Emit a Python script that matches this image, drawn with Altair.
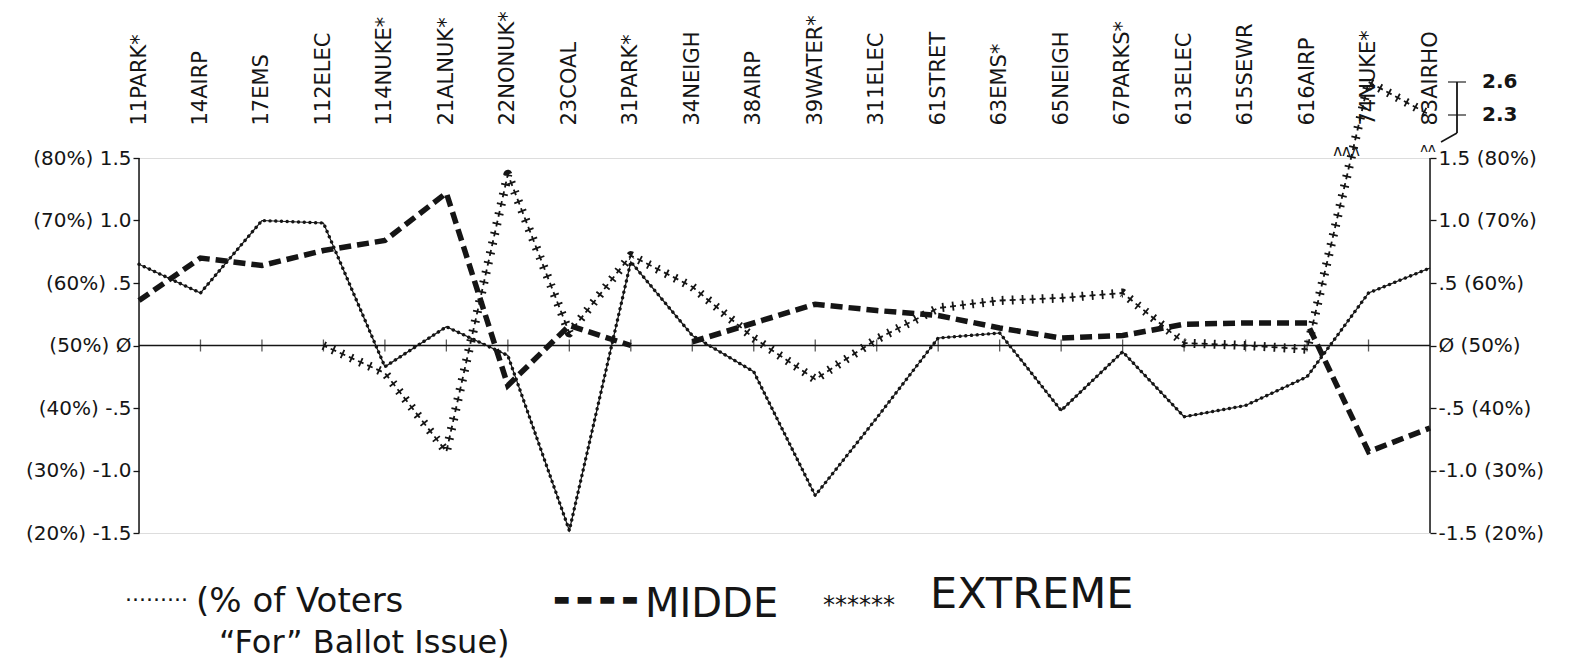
import json
import altair as alt
import pandas as pd

# ---------------- data ----------------
CATEGORIES = ["11PARK*", "14AIRP", "17EMS", "112ELEC", "114NUKE*", "21ALNUK*",
              "22NONUK*", "23COAL", "31PARK*", "34NEIGH", "38AIRP", "39WATER*",
              "311ELEC", "61STRET", "63EMS*", "65NEIGH", "67PARKS*", "613ELEC",
              "615SEWR", "616AIRP", "74NUKE*", "83AIRHO"]

VOTERS = [0.65, 0.42, 1.00, 0.98, -0.17, 0.15, -0.08, -1.48, 0.67, 0.08, -0.21,
          -1.20, -0.58, 0.06, 0.10, -0.52, -0.05, -0.57, -0.48, -0.25, 0.42, 0.62]

MIDDE = [0.36, 0.70, 0.64, 0.76, 0.84, 1.22, -0.32, 0.16, 0.00, 0.03, 0.18,
         0.33, 0.28, 0.24, 0.14, 0.06, 0.08, 0.17, 0.18, 0.18, -0.85, -0.66]
MIDDE_SEGMENT = [1] * 9 + [2] * 13   # the dashed line is interrupted after 31PARK

EXTREME = [None, None, None, 0.00, -0.22, -0.85, 1.37, 0.10, 0.72, 0.47, 0.06,
           -0.27, 0.05, 0.30, 0.36, 0.38, 0.42, 0.02, 0.00, -0.03, 2.60, 2.30]

Y_TICKS = [-1.5, -1.0, -0.5, 0.0, 0.5, 1.0, 1.5]
LEFT_LABELS = ["(20%) -1.5", "(30%) -1.0", "(40%) -.5", "(50%) Ø",
               "(60%) .5", "(70%) 1.0", "(80%) 1.5"]
RIGHT_LABELS = ["-1.5 (20%)", "-1.0 (30%)", "-.5 (40%)", "Ø (50%)",
                ".5 (60%)", "1.0 (70%)", "1.5 (80%)"]
BREAK_VALUES = [2.3, 2.6]
BREAK_MARK_Y = [1.63, 1.69]

# ---------------- styling ----------------
FONT = "DejaVu Sans"
INK = "#151515"
W, H = 1291, 375

y_scale = alt.Scale(domain=[Y_TICKS[0], Y_TICKS[-1], BREAK_VALUES[0], BREAK_VALUES[1]],
                    range=[H, 0, -43, -76], zero=False, nice=False)
x_scale = alt.Scale(type="point", domain=CATEGORIES, padding=0)

x_axis = alt.Axis(orient="top", title=None, labelAngle=-90, labelAlign="left",
                  labelBaseline="middle", labelPadding=33, labelFontSize=21,
                  labelFont=FONT, labelColor=INK, domain=False, ticks=False,
                  labelLimit=400, grid=False)


def xenc(field="cat"):
    return alt.X(f"{field}:N", scale=x_scale, axis=x_axis, sort=CATEGORIES)


def yenc(field="value", axis=None):
    return alt.Y(f"{field}:Q", scale=y_scale, axis=axis)


def label_expr(labels):
    return json.dumps(labels, ensure_ascii=False) + "[round((datum.value + 1.5) * 2)]"


common_axis = dict(title=None, values=Y_TICKS, domain=False, ticks=True, tickSize=6,
                   tickColor=INK, tickWidth=1.3, labelFontSize=20, labelFont=FONT,
                   labelColor=INK, labelPadding=2, grid=False)
left_axis = alt.Axis(orient="left", labelExpr=label_expr(LEFT_LABELS), **common_axis)
right_axis = alt.Axis(orient="right", labelExpr=label_expr(RIGHT_LABELS), **common_axis)

# ---------------- tables ----------------
df_voters = pd.DataFrame({"cat": CATEGORIES, "value": VOTERS})
df_midde = pd.DataFrame({"cat": CATEGORIES, "value": MIDDE, "segment": MIDDE_SEGMENT})
df_extreme = pd.DataFrame({"cat": CATEGORIES, "value": EXTREME}).dropna()
df_zero = pd.DataFrame({"cat": [CATEGORIES[0]], "cat_end": [CATEGORIES[-1]], "value": [0.0]})
df_axes = pd.DataFrame({"cat": [CATEGORIES[0], CATEGORIES[-1]],
                        "lo": [Y_TICKS[0]] * 2, "hi": [Y_TICKS[-1]] * 2})
df_ticks = pd.DataFrame({"cat": CATEGORIES[1:-1], "value": [0.0] * (len(CATEGORIES) - 2)})
df_ann = pd.DataFrame({"cat": [CATEGORIES[-1]] * 2, "value": BREAK_VALUES,
                       "label": [f"{v:.1f}" for v in BREAK_VALUES]})
df_ann_rule = pd.DataFrame({"cat": [CATEGORIES[-1]], "lo": [BREAK_VALUES[0]],
                            "hi": [BREAK_VALUES[1]]})
df_brk1 = pd.DataFrame({"cat": [CATEGORIES[-2]], "value": [BREAK_MARK_Y[0]]})
df_brk2 = pd.DataFrame({"cat": [CATEGORIES[-1]], "value": [BREAK_MARK_Y[1]]})

# ---------------- layers ----------------
axes = alt.Chart(df_axes).mark_rule(color=INK, strokeWidth=1.5).encode(
    x=xenc(), y=yenc("lo"), y2=alt.Y2("hi"))

zero = alt.Chart(df_zero).mark_rule(color=INK, strokeWidth=1.3).encode(
    x=xenc(), x2=alt.X2("cat_end"), y=yenc("value", right_axis))

ticks = alt.Chart(df_ticks).mark_tick(orient="vertical", size=12, thickness=1.3,
                                      color=INK).encode(x=xenc(), y=yenc())

midde = alt.Chart(df_midde).mark_line(color=INK, strokeWidth=5.5,
                                      strokeDash=[12, 6]).encode(
    x=xenc(), y=yenc(), detail="segment:N")

v_line = alt.Chart(df_voters).mark_line(color=INK, strokeWidth=1.2).encode(
    x=xenc(), y=yenc("value", left_axis))
v_dots = alt.Chart(df_voters).mark_line(color=INK, strokeWidth=3.4, strokeDash=[0.1, 5.6],
                                        strokeCap="round").encode(x=xenc(), y=yenc())

# asterisk-like chain: short perpendicular bars crossed by short along-path strokes
e_bars = alt.Chart(df_extreme).mark_line(color=INK, strokeWidth=9, strokeJoin="round",
                                         strokeDash=[1.8, 8.2]).encode(x=xenc(), y=yenc())
e_cross = alt.Chart(df_extreme).mark_line(color=INK, strokeWidth=1.8, strokeDash=[6, 4],
                                          strokeJoin="round",
                                          strokeDashOffset=2.1).encode(x=xenc(), y=yenc())

brk1 = alt.Chart(df_brk1).mark_text(text="ʌʌʌ", fontSize=15, font=FONT, color=INK,
                                    dx=-22).encode(x=xenc(), y=yenc())
brk2 = alt.Chart(df_brk2).mark_text(text="ʌʌ", fontSize=13, font=FONT, color=INK,
                                    dx=-2).encode(x=xenc(), y=yenc())

ann_rule = alt.Chart(df_ann_rule).mark_rule(color=INK, strokeWidth=1.8, xOffset=27,
                                            yOffset=18).encode(
    x=xenc(), y=yenc("lo"), y2=alt.Y2("hi"))
ann_diag = alt.Chart(df_ann_rule).mark_rule(color=INK, strokeWidth=1.6, xOffset=27,
                                            x2Offset=11, yOffset=18, y2Offset=27).encode(
    x=xenc(), x2=alt.X2("cat"), y=yenc("lo"), y2=alt.Y2("lo"))
ann_ticks = alt.Chart(df_ann).mark_tick(orient="horizontal", size=18, thickness=1.6,
                                        xOffset=27, color=INK).encode(x=xenc(), y=yenc())
ann_text = alt.Chart(df_ann).mark_text(align="left", baseline="middle", dx=52, fontSize=20,
                                       font=FONT, fontWeight="bold", color=INK).encode(
    x=xenc(), y=yenc(), text="label:N")


def legend_text(text, x, y, size, **kw):
    return alt.Chart(pd.DataFrame({"t": [text]})).mark_text(
        align="left", baseline="middle", fontSize=size, font=FONT, color=INK, **kw
    ).encode(text="t:N", x=alt.value(x), y=alt.value(y))


legend = [
    legend_text("·········", -14, 442, 22),
    legend_text("(% of Voters", 57, 444, 34),
    legend_text("\u201cFor\u201d Ballot Issue)", 80, 485, 32),
    legend_text("▬ ▬ ▬ ▬", 414, 442, 18),
    legend_text("MIDDE", 506, 447, 40),
    legend_text("******", 684, 448, 24),
    legend_text("EXTREME", 791, 437, 43),
]

chart = alt.layer(
    axes, zero, ticks, midde, v_line, v_dots, e_bars, e_cross,
    brk1, brk2, ann_rule, ann_diag, ann_ticks, ann_text, *legend
).properties(
    width=W, height=H,
    autosize=alt.AutoSizeParams(type="none"),
    padding={"left": 131, "top": 150, "right": 143, "bottom": 128},
).resolve_axis(y="independent").configure_view(stroke=None).configure(background="white")

chart.save("out.html", embed_options={"renderer": "svg", "actions": False})
